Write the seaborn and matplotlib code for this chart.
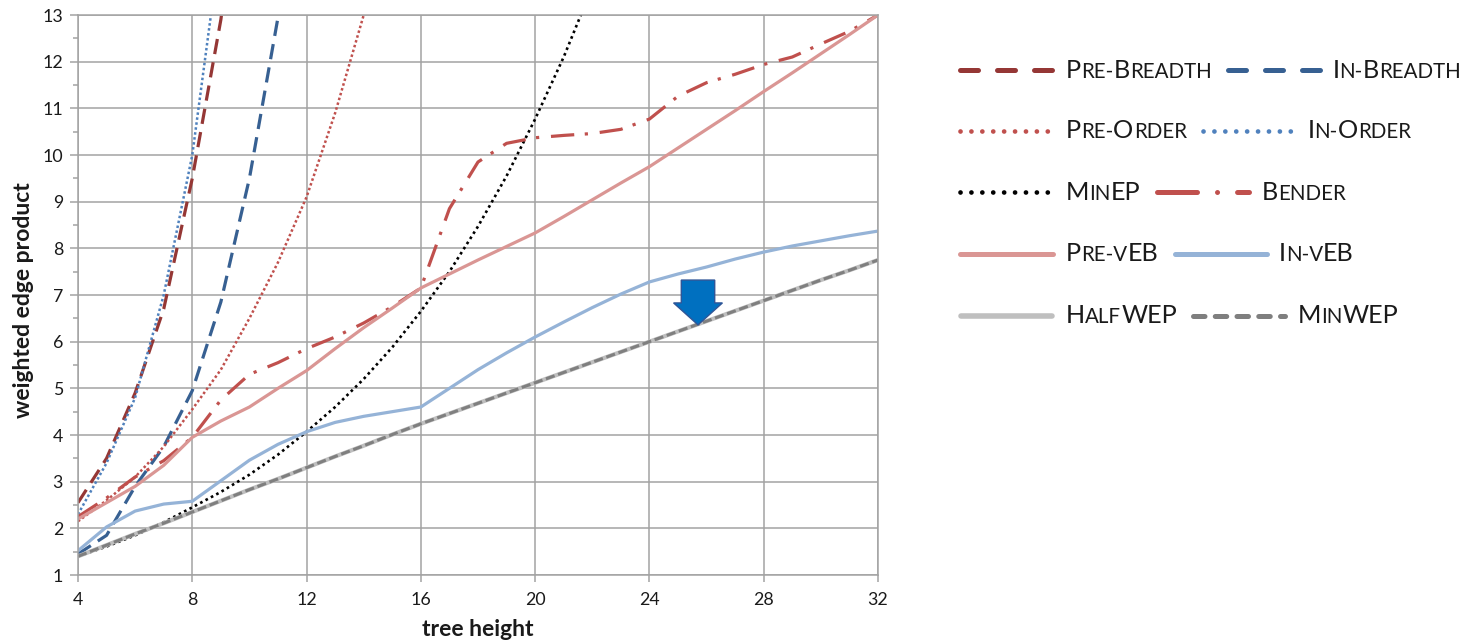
import matplotlib
matplotlib.use("Agg")
import matplotlib.pyplot as plt
import pandas as pd
import seaborn as sns
from matplotlib.lines import Line2D
from matplotlib.ticker import MultipleLocator
from matplotlib.offsetbox import TextArea, HPacker, DrawingArea, AnchoredOffsetbox
from matplotlib.patches import FancyArrow

# ---------------- data ----------------
heights = list(range(4, 33))

pre_breadth = [2.55, 3.5, 4.9, 6.7, 9.5, 12.9, 17.5]
in_breadth = [1.45, 1.85, 2.9, 3.75, 4.95, 6.85, 9.5, 12.95, 17.8]
pre_order = [2.15, 2.6, 3.1, 3.75, 4.55, 5.4, 6.5, 7.7, 9.1, 10.9, 13.0, 15.6]
in_order = [2.3, 3.4, 4.8, 7.0, 10.0, 14.6]
min_ep = [1.4, 1.61, 1.85, 2.13, 2.45, 2.78, 3.15, 3.58, 4.07, 4.6, 5.2, 5.88,
          6.65, 7.5, 8.47, 9.55, 10.77, 12.1, 13.6]
bender = [2.25, 2.65, 3.1, 3.45, 3.95, 4.75, 5.3, 5.55, 5.85, 6.1, 6.4, 6.75,
          7.15, 8.85, 9.85, 10.25, 10.37, 10.42, 10.46, 10.55, 10.77, 11.26,
          11.55, 11.73, 11.94, 12.1, 12.38, 12.65, 13.0]
pre_veb = [2.2, 2.55, 2.9, 3.35, 3.95, 4.3, 4.6, 5.0, 5.38, 5.85, 6.3, 6.72,
           7.15, 7.45, 7.75, 8.04, 8.33, 8.68, 9.04, 9.4, 9.75, 10.15, 10.55,
           10.95, 11.36, 11.76, 12.17, 12.58, 13.0]
in_veb = [1.52, 2.03, 2.37, 2.52, 2.58, 3.02, 3.46, 3.8, 4.07, 4.27, 4.4, 4.5,
          4.6, 5.0, 5.4, 5.76, 6.1, 6.42, 6.73, 7.02, 7.28, 7.45, 7.6, 7.77,
          7.92, 8.05, 8.16, 8.27, 8.37]
half_wep = [1.4, 1.64, 1.88, 2.11, 2.35, 2.59, 2.83, 3.06, 3.3, 3.54, 3.77,
            4.01, 4.24, 4.46, 4.68, 4.9, 5.12, 5.34, 5.56, 5.78, 6.0, 6.22,
            6.44, 6.66, 6.88, 7.1, 7.32, 7.53, 7.75]
min_wep = [1.4, 1.64, 1.88, 2.11, 2.35, 2.59, 2.83, 3.06, 3.3, 3.54, 3.77,
           4.01, 4.24, 4.46, 4.68, 4.9, 5.12, 5.34, 5.56, 5.78, 6.0, 6.22,
           6.44, 6.66, 6.88, 7.1, 7.32, 7.53, 7.75]

series_names = ["Pre-Breadth", "In-Breadth", "Pre-Order", "In-Order", "MinEP",
                "Bender", "Pre-vEB", "In-vEB", "HalfWEP", "MinWEP"]
series_values = [pre_breadth, in_breadth, pre_order, in_order, min_ep,
                 bender, pre_veb, in_veb, half_wep, min_wep]

x_ticks = [4, 8, 12, 16, 20, 24, 28, 32]
y_ticks = list(range(1, 14))
x_label = "tree height"
y_label = "weighted edge product"

# arrow annotation (data units)
arrow_x, arrow_top, arrow_tip = 25.7, 7.32, 6.36

# ---------------- styles ----------------
plot_styles = {
    "Pre-Breadth": dict(color="#953735", lw=2.3, ls=(0, (4.8, 2.6))),
    "In-Breadth": dict(color="#376092", lw=2.3, ls=(0, (4.8, 2.6))),
    "Pre-Order": dict(color="#C0504D", lw=1.8, ls=(0, (1, 1))),
    "In-Order": dict(color="#4F81BD", lw=1.8, ls=(0, (1, 1))),
    "MinEP": dict(color="#000000", lw=1.9, ls=(0, (1, 1.3))),
    "Bender": dict(color="#C0504D", lw=2.3, ls=(0, (7.3, 3.3, 1.0, 3.7))),
    "Pre-vEB": dict(color="#DA9694", lw=2.3, ls="-"),
    "In-vEB": dict(color="#95B3D7", lw=2.3, ls="-"),
    "HalfWEP": dict(color="#BFBFBF", lw=3.0, ls="-"),
    "MinWEP": dict(color="#7F7F7F", lw=2.2, ls=(0, (3, 1.2))),
}
legend_styles = {
    "Pre-Breadth": dict(color="#953735", lw=3.6, ls=(0, (3.6, 3.8))),
    "In-Breadth": dict(color="#376092", lw=3.6, ls=(0, (3.6, 3.8))),
    "Pre-Order": dict(color="#C0504D", lw=3.4, ls=(0, (0.01, 2.3))),
    "In-Order": dict(color="#4F81BD", lw=3.4, ls=(0, (0.01, 2.3))),
    "MinEP": dict(color="#000000", lw=3.4, ls=(0, (0.01, 2.3))),
    "Bender": dict(color="#C0504D", lw=3.6, ls=(0, (8.0, 4.0, 0.01, 4.0))),
    "Pre-vEB": dict(color="#DA9694", lw=3.6, ls="-"),
    "In-vEB": dict(color="#95B3D7", lw=3.6, ls="-"),
    "HalfWEP": dict(color="#BFBFBF", lw=4.0, ls="-"),
    "MinWEP": dict(color="#7F7F7F", lw=3.6, ls=(0, (2.3, 2.05))),
}

grid_color = "#A3A3A3"
text_color = "#1A1A1A"

sns.set_style("whitegrid")
plt.rcParams["font.family"] = ["Lato", "DejaVu Sans"]

W, H = 1483, 643
fig = plt.figure(figsize=(W / 100, H / 100), dpi=100)
ax = fig.add_axes([78 / W, (H - 575) / H, 800 / W, 560 / H])

rows = []
for name, vals in zip(series_names, series_values):
    for h, v in zip(heights, vals):
        rows.append({"height": h, "value": v, "series": name})
df = pd.DataFrame(rows)

for name in series_names:
    st = plot_styles[name]
    sns.lineplot(data=df[df["series"] == name], x="height", y="value",
                 color=st["color"], linewidth=st["lw"], linestyle=st["ls"],
                 errorbar=None, legend=False, ax=ax, sort=True,
                 dash_capstyle="butt", solid_capstyle="round")

ax.set_xlim(4, 32)
ax.set_ylim(1, 13)
ax.set_xticks(x_ticks)
ax.set_yticks(y_ticks)
ax.yaxis.set_minor_locator(MultipleLocator(0.5))
ax.grid(True, which="major", color=grid_color, linewidth=1.1)
ax.grid(False, which="minor")
for sp in ax.spines.values():
    sp.set_color(grid_color)
    sp.set_linewidth(1.1)
ax.tick_params(axis="y", which="major", left=True, length=5.8, width=1.1,
               color=grid_color, pad=5, labelsize=12.8, labelcolor=text_color)
ax.tick_params(axis="y", which="minor", left=True, length=3.6, width=1.1,
               color=grid_color)
ax.tick_params(axis="x", which="major", bottom=True, length=5, width=1.1,
               color=grid_color, pad=7, labelsize=12.8, labelcolor=text_color)

ax.set_xlabel(x_label, fontsize=16.5, fontweight="bold", color=text_color)
ax.set_ylabel(y_label, fontsize=16.5, fontweight="bold", color=text_color)
ax.xaxis.set_label_coords(0.5, -0.078)
ax.yaxis.set_label_coords(-0.055, 0.49)

# blue block arrow pointing at the MinWEP line
ax.add_patch(FancyArrow(arrow_x, arrow_top, 0, arrow_tip - arrow_top,
                        width=1.17, head_width=1.71, head_length=0.47,
                        length_includes_head=True, facecolor="#0070C0",
                        edgecolor="#2F5597", linewidth=1.0, zorder=10))


# ---------------- custom legend (small caps labels) ----------------
def small_caps(label, big=18.2, small=14.8):
    runs = []
    for ch in label:
        is_big = ch.isupper()
        if runs and runs[-1][0] == is_big:
            runs[-1][1] += ch.upper()
        else:
            runs.append([is_big, ch.upper()])
    kids = [TextArea(t, textprops=dict(fontsize=big if b else small,
                                       color=text_color, family="Lato"))
            for b, t in runs]
    return HPacker(children=kids, align="baseline", pad=0, sep=0)


def handle(name, width_px=97):
    st = legend_styles[name]
    w = width_px * 0.72
    da = DrawingArea(w, 12, 0, 0)
    r = st["lw"] / 2
    da.add_artist(Line2D([r, w - r], [6, 6], color=st["color"], lw=st["lw"],
                         linestyle=st["ls"], dash_capstyle="round",
                         solid_capstyle="round"))
    return da


def spacer(px):
    return DrawingArea(px * 0.72, 1, 0, 0)


row_centers = [70, 131, 192, 254, 316]
for i, yc in enumerate(row_centers):
    a, b = series_names[2 * i], series_names[2 * i + 1]
    row = HPacker(children=[handle(a), spacer(11), small_caps(a), spacer(14),
                            handle(b), spacer(10), small_caps(b)],
                  align="center", pad=0, sep=0)
    box = AnchoredOffsetbox(loc="center left", child=row, pad=0, borderpad=0,
                            frameon=False, bbox_to_anchor=(958 / W, 1 - yc / H),
                            bbox_transform=fig.transFigure)
    ax.add_artist(box)

fig.savefig("out.png", dpi=100)
